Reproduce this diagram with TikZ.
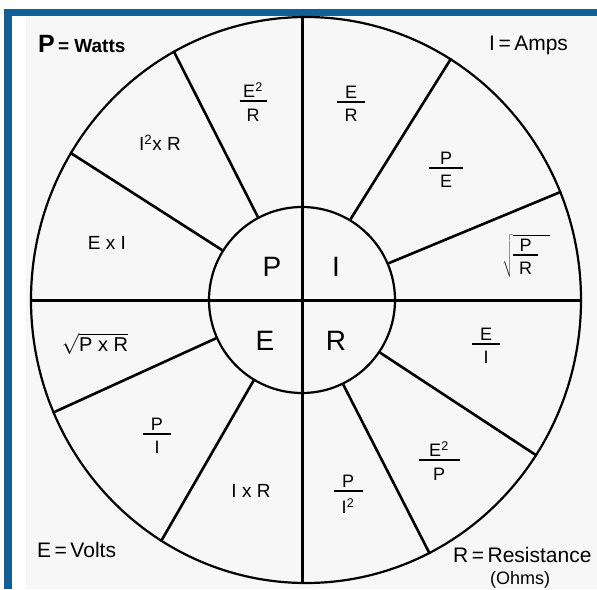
\documentclass[tikz,border=0pt]{standalone}
\usepackage{fontspec}
\setmainfont{Liberation Sans}
\usetikzlibrary{shapes.geometric}

\definecolor{frameblue}{RGB}{19,94,146}

% stacked fraction, rule width as option
\newcommand{\ratio}[3][28pt]{\vbox{\offinterlineskip\halign{\hfil##\hfil\cr#2\cr\noalign{\kern2.5pt}\vrule width#1 height2.2pt depth0pt\cr\noalign{\kern6.5pt}#3\cr}}}
\newcommand{\sqd}{\textsuperscript{2}}

\begin{document}
\begin{tikzpicture}[x=1pt, y=-1pt,
    rimline/.style={draw, line width=2.2pt, inner sep=0pt},
    spoke/.style={line width=2.6pt},
    axis line/.style={line width=3pt},
    quantity/.style={font=\fontsize{28}{30}\selectfont, inner sep=0pt},
    formula/.style={font=\fontsize{19}{21}\selectfont, inner sep=0pt},
    fraction/.style={font=\fontsize{18}{20}\selectfont, inner sep=0pt},
    legend/.style={font=\fontsize{21}{23}\selectfont, inner sep=0pt, anchor=base west}
]
\useasboundingbox (0,0) rectangle (597,589);

% frame
\fill[black!3] (26,16) rectangle (597,589);
\fill[frameblue] (4,9) rectangle (597,16);
\fill[frameblue] (4,9) rectangle (12,589);

% wheel
\node[rimline, ellipse, minimum width=550pt, minimum height=566pt] (rim) at (306,300) {};
\node[rimline, circle, minimum size=186pt] (hub) at (302,300) {};
\draw[axis line] (rim.west) -- (rim.east);
\draw[axis line] (hub.center |- rim.north) -- (hub.center |- rim.south);
\foreach \a in {23.5,59,118.5,148,204.5,239.5,296,326.5}
    \draw[spoke] (hub.\a) -- (rim.\a);

% quantities
\node[quantity] (qP) at (272,267) {P};
\node[quantity] (qI) at (336,267) {I};
\node[quantity] (qE) at (265,341) {E};
\node[quantity] (qR) at (336,341) {R};

% formulas
\node[fraction] (eer) at (253,102) {\ratio[27pt]{E\sqd}{R}};
\node[fraction] (er) at (351,104) {\ratio{E}{R}};
\node[fraction] (pe) at (446,170) {\ratio[34pt]{P}{E}};
\node[fraction] (rootpr) at (526,256) {$\sqrt{\ratio[25pt]{P}{R}\mkern12mu}$};
\node[fraction] (ei) at (486,346) {\ratio{E}{I}};
\node[fraction] (eep) at (439,461) {\ratio[41pt]{E\sqd}{P}};
\node[fraction] (pii) at (348,494) {\ratio[29pt]{P}{I\sqd}};
\node[formula] (ixr) at (251,491) {I x R};
\node[fraction] (pi) at (157,436) {\ratio{P}{I}};
\node[formula, font=\fontsize{20}{22}\selectfont] (rootpxr) at (95,344) {$\sqrt{\hbox{P x R}}$};
\node[formula] (exi) at (107,243) {E x I};
\node[formula] (iixr) at (160,143) {I\sqd x R};

% legend
\node[legend, font=\fontsize{19}{21}\selectfont\bfseries] (watts) at (38,52) {{\fontsize{25}{27}\selectfont P}\,= Watts};
\node[legend] (amps) at (489,50) {I\,=\,Amps};
\node[legend] (volts) at (37,557) {E\,=\,Volts};
\node[legend] (resist) at (453,562) {R\,=\,Resistance};
\node[legend, font=\fontsize{18}{20}\selectfont, anchor=base] (ohms) at (520,584) {(Ohms)};
\end{tikzpicture}
\end{document}
